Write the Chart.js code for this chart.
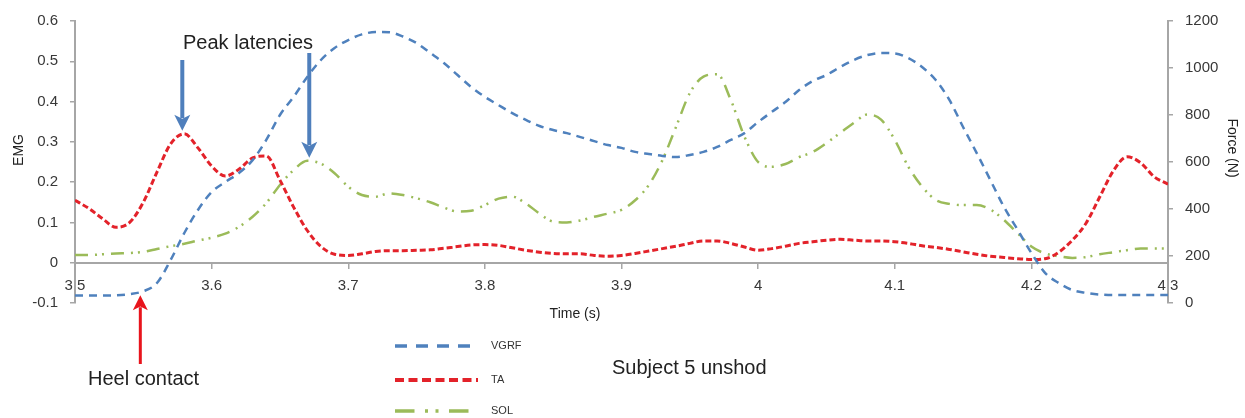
<!DOCTYPE html>
<html>
<head>
<meta charset="utf-8">
<script src="https://cdn.jsdelivr.net/npm/chart.js@4"></script>
<style>
  html, body { margin: 0; padding: 0; background: #fff; }
  #wrap { width: 1245px; height: 418px; }
</style>
</head>
<body>
<div id="wrap"><canvas id="chart" width="1245" height="418"></canvas></div>
<script>
// time samples (s)
const times = [
  3.50, 3.51, 3.52, 3.53, 3.54, 3.55, 3.56, 3.57, 3.58, 3.59,
  3.60, 3.61, 3.62, 3.63, 3.64, 3.65, 3.66, 3.67, 3.68, 3.69,
  3.70, 3.71, 3.72, 3.73, 3.74, 3.75, 3.76, 3.77, 3.78, 3.79,
  3.80, 3.81, 3.82, 3.83, 3.84, 3.85, 3.86, 3.87, 3.88, 3.89,
  3.90, 3.91, 3.92, 3.93, 3.94, 3.95, 3.96, 3.97, 3.98, 3.99,
  4.00, 4.01, 4.02, 4.03, 4.04, 4.05, 4.06, 4.07, 4.08, 4.09,
  4.10, 4.11, 4.12, 4.13, 4.14, 4.15, 4.16, 4.17, 4.18, 4.19,
  4.20, 4.21, 4.22, 4.23, 4.24, 4.25, 4.26, 4.27, 4.28, 4.29,
  4.30,
];

// vertical ground reaction force (N), right axis
const vgrf = [
  32, 32, 32, 33, 38, 50, 85, 183, 298, 396,
  472, 515, 553, 608, 694, 800, 877, 962, 1034, 1085,
  1119, 1143, 1153, 1152, 1134, 1106, 1064, 1021, 970, 919,
  877, 842, 808, 779, 753, 736, 723, 706, 689, 672,
  660, 643, 634, 626, 621, 630, 643, 664, 694, 723,
  770, 813, 855, 906, 945, 970, 1004, 1034, 1055, 1064,
  1062, 1042, 1004, 949, 864, 749, 638, 523, 408, 311,
  213, 128, 85, 55, 43, 36, 34, 34, 34, 34,
  34,
];

// tibialis anterior EMG, left axis
const ta = [
  0.155, 0.135, 0.110, 0.088, 0.100, 0.150, 0.225, 0.295, 0.320, 0.285,
  0.240, 0.215, 0.232, 0.260, 0.265, 0.205, 0.138, 0.080, 0.040, 0.021,
  0.018, 0.022, 0.028, 0.030, 0.030, 0.031, 0.032, 0.036, 0.040, 0.044,
  0.045, 0.043, 0.037, 0.031, 0.026, 0.023, 0.022, 0.022, 0.018, 0.016,
  0.018, 0.023, 0.029, 0.035, 0.041, 0.048, 0.054, 0.054, 0.048, 0.039,
  0.031, 0.035, 0.041, 0.048, 0.052, 0.056, 0.058, 0.056, 0.054, 0.054,
  0.052, 0.048, 0.042, 0.038, 0.033, 0.027, 0.021, 0.016, 0.013, 0.010,
  0.008, 0.010, 0.026, 0.056, 0.098, 0.163, 0.228, 0.263, 0.248, 0.213,
  0.195,
];

// soleus EMG, left axis
const sol = [
  0.019, 0.019, 0.021, 0.023, 0.024, 0.027, 0.034, 0.041, 0.047, 0.055,
  0.062, 0.072, 0.089, 0.114, 0.148, 0.193, 0.230, 0.253, 0.246, 0.222,
  0.189, 0.168, 0.164, 0.172, 0.168, 0.160, 0.150, 0.137, 0.127, 0.129,
  0.143, 0.159, 0.164, 0.147, 0.122, 0.102, 0.100, 0.105, 0.114, 0.122,
  0.131, 0.155, 0.193, 0.255, 0.338, 0.421, 0.462, 0.468, 0.404, 0.313,
  0.250, 0.238, 0.245, 0.262, 0.275, 0.297, 0.322, 0.347, 0.368, 0.355,
  0.305, 0.238, 0.189, 0.156, 0.146, 0.143, 0.143, 0.132, 0.106, 0.073,
  0.040, 0.023, 0.016, 0.012, 0.014, 0.021, 0.026, 0.031, 0.035, 0.035,
  0.035,
];

const timeTicks = [3.5, 3.6, 3.7, 3.8, 3.9, 4, 4.1, 4.2, 4.3];
const emgTicks = [-0.1, 0, 0.1, 0.2, 0.3, 0.4, 0.5, 0.6];
const forceTicks = [0, 200, 400, 600, 800, 1000, 1200];

const peakTimes = [3.58, 3.67];
const heelContactTime = 3.55;

const FONT = "'Liberation Sans', Arial, sans-serif";
const axisGrey = '#a6a6a6';
const tickText = '#383838';

Chart.defaults.font.family = FONT;

function toPoints(values) {
  return times.map((t, i) => ({ x: t, y: values[i] }));
}

function fixedTicks(list) {
  return (scale) => {
    scale.ticks = list.map((v) => ({ value: v }));
  };
}

function drawArrow(ctx, x, yStart, yTip, color, width, head) {
  const dir = yTip > yStart ? 1 : -1;
  ctx.save();
  ctx.strokeStyle = color;
  ctx.fillStyle = color;
  ctx.lineWidth = width;
  ctx.beginPath();
  ctx.moveTo(x, yStart);
  ctx.lineTo(x, yTip - dir * head * 0.8);
  ctx.stroke();
  ctx.beginPath();
  ctx.moveTo(x, yTip);
  ctx.lineTo(x - head * 0.5, yTip - dir * head);
  ctx.lineTo(x, yTip - dir * head * 0.75);
  ctx.lineTo(x + head * 0.5, yTip - dir * head);
  ctx.closePath();
  ctx.fill();
  ctx.restore();
}

const annotations = {
  id: 'annotations',
  afterDraw(chart) {
    const { ctx } = chart;
    const { x, y, y2 } = chart.scales;

    ctx.save();
    ctx.fillStyle = '#222';

    // axis titles
    ctx.font = '14px ' + FONT;
    ctx.textAlign = 'center';
    ctx.textBaseline = 'middle';
    ctx.fillText('Time (s)', 575, 314);

    ctx.save();
    ctx.translate(19, 150);
    ctx.rotate(-Math.PI / 2);
    ctx.fillText('EMG', 0, 0);
    ctx.restore();

    ctx.save();
    ctx.translate(1232, 148);
    ctx.rotate(Math.PI / 2);
    ctx.fillText('Force (N)', 0, 0);
    ctx.restore();

    // peak latency arrows
    const blue = '#4f7fbc';
    const i1 = times.indexOf(peakTimes[0]);
    const i2 = times.indexOf(peakTimes[1]);
    drawArrow(ctx, x.getPixelForValue(peakTimes[0]) - 2, 60, y.getPixelForValue(ta[i1]) - 3, blue, 4, 16);
    drawArrow(ctx, x.getPixelForValue(peakTimes[1]) + 2, 53, y.getPixelForValue(sol[i2]) - 3, blue, 4, 16);

    // heel contact arrow
    const ih = times.indexOf(heelContactTime);
    drawArrow(ctx, x.getPixelForValue(heelContactTime) - 3, 364, y2.getPixelForValue(vgrf[ih]) + 4, '#e8141c', 3, 15);

    ctx.fillStyle = '#222';
    ctx.font = '20px ' + FONT;
    ctx.textAlign = 'left';
    ctx.textBaseline = 'middle';
    ctx.fillText('Peak latencies', 183, 43);
    ctx.fillText('Heel contact', 88, 379);
    ctx.fillText('Subject 5 unshod', 612, 368);

    // legend, stacked vertically
    const rows = [346, 380, 411];
    chart.data.datasets.forEach((ds, i) => {
      ctx.save();
      ctx.strokeStyle = ds.borderColor;
      ctx.lineWidth = ds.borderWidth + 1;
      ctx.setLineDash(ds.borderDash.map((d) => d * 1.5));
      ctx.beginPath();
      ctx.moveTo(395, rows[i]);
      ctx.lineTo(478, rows[i]);
      ctx.stroke();
      ctx.restore();
      ctx.fillStyle = '#333';
      ctx.font = '11px ' + FONT;
      ctx.fillText(ds.label, 491, rows[i]);
    });

    ctx.restore();
  },
};

new Chart(document.getElementById('chart'), {
  type: 'line',
  data: {
    datasets: [
      {
        label: 'VGRF',
        data: toPoints(vgrf),
        yAxisID: 'y2',
        borderColor: '#4f81bd',
        borderWidth: 2.5,
        borderDash: [8, 6],
      },
      {
        label: 'TA',
        data: toPoints(ta),
        yAxisID: 'y',
        borderColor: '#e3222a',
        borderWidth: 3,
        borderDash: [6, 3],
      },
      {
        label: 'SOL',
        data: toPoints(sol),
        yAxisID: 'y',
        borderColor: '#9bbb59',
        borderWidth: 2.5,
        borderDash: [13, 7, 2, 5, 2, 7],
      },
    ],
  },
  options: {
    responsive: false,
    animation: false,
    cubicInterpolationMode: 'monotone',
    elements: { point: { radius: 0 }, line: { fill: false } },
    layout: { padding: { top: 21, bottom: 115, left: 0, right: 0 } },
    plugins: { legend: { display: false }, tooltip: { enabled: false } },
    scales: {
      x: {
        type: 'linear',
        position: { y: 0 },
        min: 3.5,
        max: 4.3,
        afterBuildTicks: fixedTicks(timeTicks),
        ticks: { color: tickText, font: { size: 15 }, padding: 9, maxRotation: 0, callback: (v) => String(v) },
        grid: { drawOnChartArea: false, tickLength: 5, color: axisGrey, lineWidth: 1.5 },
        border: { color: axisGrey, width: 2 },
      },
      y: {
        position: 'left',
        min: -0.1,
        max: 0.6,
        afterBuildTicks: fixedTicks(emgTicks),
        afterFit: (scale) => { scale.width = 75; },
        ticks: { color: tickText, font: { size: 15 }, padding: 12, callback: (v) => String(v) },
        grid: { drawOnChartArea: false, tickLength: 5, color: axisGrey, lineWidth: 1.5 },
        border: { color: axisGrey, width: 2 },
      },
      y2: {
        position: 'right',
        min: 0,
        max: 1200,
        afterBuildTicks: fixedTicks(forceTicks),
        afterFit: (scale) => { scale.width = 77; },
        ticks: { color: tickText, font: { size: 15 }, padding: 12, callback: (v) => String(v) },
        grid: { drawOnChartArea: false, tickLength: 5, color: axisGrey, lineWidth: 1.5 },
        border: { color: axisGrey, width: 2 },
      },
    },
  },
  plugins: [annotations],
});
</script>
</body>
</html>
